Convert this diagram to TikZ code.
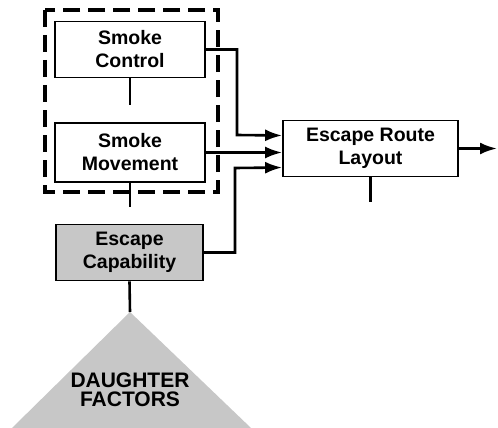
\documentclass[tikz,border=0pt]{standalone}
\usepackage{fontspec}
\setmainfont{Liberation Sans}
\usetikzlibrary{arrows.meta,calc}

\begin{document}
\begin{tikzpicture}[>={Latex[length=17pt,width=12pt]},x=1pt,y=-1pt,
  factor/.style={draw,line width=1.8pt,align=center,inner sep=0pt,
    font=\fontsize{19.5}{23}\selectfont\bfseries,minimum width=150pt,minimum height=56pt},
  link/.style={line width=2.6pt},
  group/.style={line width=4.5pt,dash pattern=on 17pt off 8pt}]
  \useasboundingbox (0,0) rectangle (498,428);
  % dashed group round the smoke factors
  \draw[group] (45,10) rectangle (218,192);
  \node[factor] (ctrl) at (130,49.5) {Smoke\\Control};
  \node[factor,minimum height=59pt] (move) at (130,152.5) {Smoke\\Movement};
  \node[factor,fill=black!22,minimum width=147pt] (cap) at (129.5,252.5) {Escape\\Capability};
  \node[factor,minimum width=175pt] (route) at (370.5,148.5) {Escape Route\\Layout};
  % daughter factors
  \coordinate (apex) at (130,312);
  \fill[black!22] (apex) -- (251,428) -- (12,428) -- cycle;
  \node[align=center,font=\fontsize{21}{19}\selectfont\bfseries] (kids) at (130,390) {DAUGHTER\\FACTORS};
  % stubs
  \coordinate (s1) at (ctrl.south |- 0,105);
  \coordinate (s2) at (move.south |- 0,207);
  \coordinate (s3) at (route.south |- 0,202);
  \draw[link] (ctrl.south) -- (s1);
  \draw[link] (move.south) -- (s2);
  \draw[link] (route.south) -- (s3);
  \draw[link] (cap.south) -- (apex);
  % inputs to the route layout
  \coordinate (in1) at ([yshift=13pt]route.west);
  \coordinate (in3) at ([yshift=-19pt]route.west);
  \coordinate (out) at (497,148.5);
  \draw[link,->] (ctrl.east) -| (237,135) -- (in1);
  \draw[link,->] (move.east) -- (move.east -| route.west);
  \draw[link,->] (cap.east) -| (235,168) -- (in3);
  \draw[link,->] (route.east) -- (out);
\end{tikzpicture}
\end{document}
